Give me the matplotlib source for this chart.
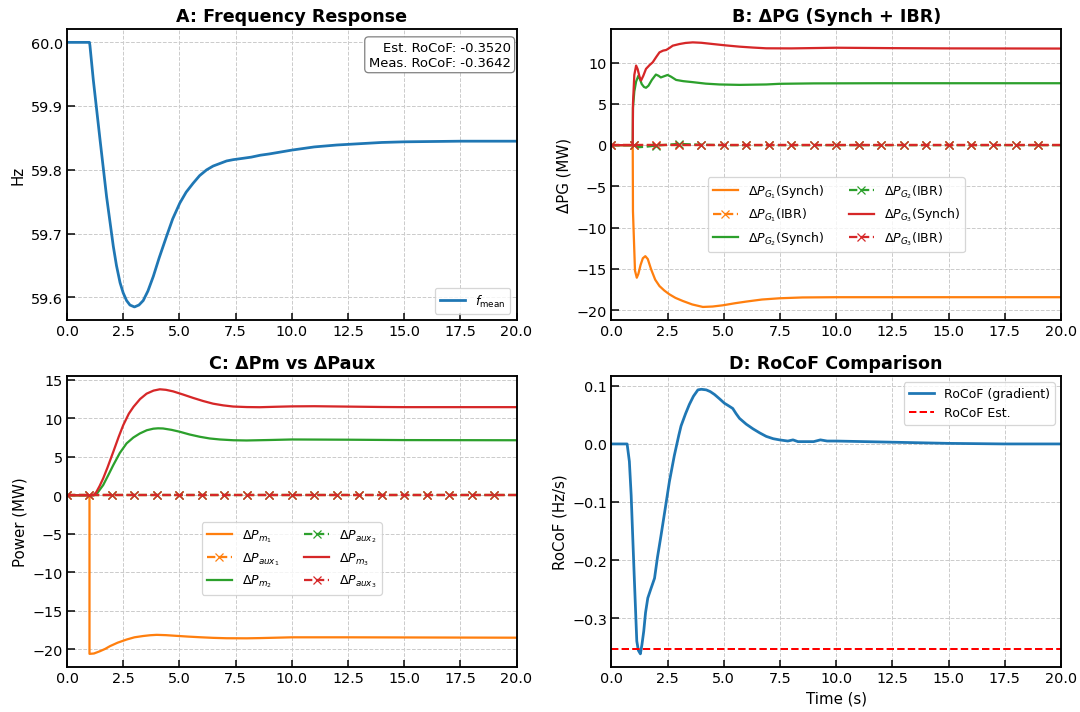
import matplotlib
matplotlib.use("Agg")
import matplotlib.pyplot as plt

# ---- data ----
# A: mean frequency (Hz)
t_f = [0.0, 1.0, 1.02, 1.17, 1.47, 1.76, 2.06, 2.2, 2.36, 2.5, 2.65, 2.8, 3.0, 3.2,
       3.39, 3.6, 3.84, 4.1, 4.43, 4.7, 5.02, 5.3, 5.61, 5.9, 6.21, 6.5, 6.8, 7.1,
       7.39, 7.8, 8.2, 8.6, 9.0, 10.0, 11.0, 12.0, 13.0, 14.0, 15.0, 17.5, 20.0]
f_mean = [60.0, 60.0, 59.995, 59.941, 59.847, 59.758, 59.680, 59.650, 59.623, 59.607,
          59.595, 59.588, 59.585, 59.588, 59.595, 59.610, 59.633, 59.662, 59.696,
          59.723, 59.748, 59.765, 59.779, 59.791, 59.800, 59.806, 59.810, 59.814,
          59.816, 59.818, 59.820, 59.823, 59.825, 59.831, 59.836, 59.839, 59.841,
          59.843, 59.844, 59.845, 59.845]
rocof_est = -0.3520
rocof_meas = -0.3642

# B: generator power changes (MW)
t_g1 = [0.0, 0.95, 0.96, 1.05, 1.13, 1.2, 1.3, 1.4, 1.51, 1.62, 1.77, 1.95, 2.14,
        2.35, 2.58, 2.85, 3.18, 3.6, 4.07, 4.5, 4.96, 5.5, 6.0, 6.7, 7.48, 8.5, 10.0,
        15.0, 20.0]
pg1_synch = [0.0, 0.0, -8.0, -15.2, -16.06, -15.6, -14.5, -13.7, -13.45, -13.8,
             -15.06, -16.3, -17.07, -17.6, -18.07, -18.5, -18.88, -19.3, -19.6,
             -19.55, -19.4, -19.15, -18.95, -18.7, -18.55, -18.45, -18.42, -18.42,
             -18.42]
t_g2 = [0.0, 0.95, 0.96, 1.02, 1.1, 1.2, 1.27, 1.35, 1.45, 1.54, 1.65, 1.8, 1.98,
        2.1, 2.2, 2.35, 2.5, 2.65, 2.88, 3.2, 3.62, 4.2, 4.81, 5.7, 6.89, 7.48, 9.0,
        12.0, 20.0]
pg2_synch = [0.0, 0.0, 4.5, 6.5, 7.7, 8.4, 8.0, 7.4, 7.05, 6.95, 7.2, 7.9, 8.55, 8.4,
             8.2, 8.35, 8.5, 8.3, 7.9, 7.75, 7.63, 7.45, 7.35, 7.3, 7.35, 7.43, 7.48,
             7.5, 7.5]
t_g3 = [0.0, 0.95, 0.96, 1.02, 1.1, 1.17, 1.25, 1.32, 1.42, 1.54, 1.7, 1.84, 2.0,
        2.14, 2.3, 2.44, 2.6, 2.73, 3.03, 3.3, 3.62, 4.0, 4.51, 5.1, 5.7, 6.3, 6.89,
        8.0, 10.0, 12.5, 15.0, 20.0]
pg3_synch = [0.0, 0.0, 5.0, 8.5, 9.64, 9.2, 8.3, 7.83, 8.4, 9.24, 9.7, 10.04, 10.7,
             11.24, 11.45, 11.53, 11.8, 12.05, 12.25, 12.38, 12.45, 12.4, 12.25,
             12.08, 11.93, 11.82, 11.73, 11.72, 11.8, 11.75, 11.72, 11.7]
t_ibr = [0.0, 1.0, 1.2, 1.5, 2.0, 2.5, 3.0, 3.5, 4.0, 5.0, 6.0, 7.0, 8.0, 9.0, 10.0,
         11.0, 12.0, 13.0, 14.0, 15.0, 16.0, 17.0, 18.0, 19.0, 20.0]
pg1_ibr = [0.0] * len(t_ibr)
pg2_ibr = [0.0, 0.0, -0.25, -0.2, -0.05, 0.05, 0.15, 0.1, 0.05, 0.0, 0.0, 0.0, 0.0,
           0.0, 0.0, 0.0, 0.0, 0.0, 0.0, 0.0, 0.0, 0.0, 0.0, 0.0, 0.0]
pg3_ibr = [0.0] * len(t_ibr)

# C: mechanical and auxiliary power (MW)
t_m1 = [0.0, 1.0, 1.0, 1.2, 1.47, 1.7, 1.91, 2.25, 2.65, 3.0, 3.39, 3.7, 3.99, 4.4,
        4.87, 5.4, 5.91, 6.5, 7.1, 8.0, 8.6, 10.0, 12.5, 20.0]
pm1 = [0.0, 0.0, -20.6, -20.55, -20.25, -19.95, -19.6, -19.15, -18.74, -18.45,
       -18.28, -18.18, -18.13, -18.17, -18.26, -18.36, -18.44, -18.52, -18.57,
       -18.58, -18.55, -18.45, -18.45, -18.5]
t_m2 = [0.0, 1.2, 1.35, 1.61, 1.85, 2.06, 2.35, 2.65, 2.95, 3.24, 3.55, 3.84, 4.05,
        4.27, 4.65, 5.02, 5.45, 5.91, 6.35, 6.8, 7.4, 7.99, 9.0, 10.0, 12.5, 15.0,
        20.0]
pm2 = [0.0, 0.0, 0.3, 1.33, 2.7, 3.93, 5.5, 6.74, 7.5, 8.03, 8.45, 8.65, 8.7, 8.68,
       8.5, 8.25, 7.9, 7.6, 7.38, 7.25, 7.15, 7.12, 7.18, 7.25, 7.22, 7.17, 7.15]
t_m3 = [0.0, 1.17, 1.3, 1.45, 1.61, 1.8, 2.06, 2.3, 2.5, 2.75, 2.96, 3.25, 3.54,
        3.85, 4.13, 4.4, 4.72, 5.15, 5.61, 6.05, 6.5, 6.95, 7.39, 8.0, 8.58, 9.3,
        10.0, 11.0, 12.5, 14.0, 15.0, 20.0]
pm3 = [0.0, 0.0, 0.4, 1.2, 2.2, 3.6, 5.66, 7.6, 9.1, 10.6, 11.5, 12.5, 13.2, 13.6,
       13.77, 13.7, 13.5, 13.1, 12.65, 12.25, 11.9, 11.68, 11.53, 11.46, 11.44,
       11.5, 11.55, 11.57, 11.52, 11.47, 11.45, 11.45]
t_aux = [0.0, 1.0, 2.0, 3.0, 4.0, 5.0, 6.0, 7.0, 8.0, 9.0, 10.0, 11.0, 12.0, 13.0,
         14.0, 15.0, 16.0, 17.0, 18.0, 19.0, 20.0]
paux1 = [0.0] * len(t_aux)
paux2 = [0.0] * len(t_aux)
paux3 = [0.0] * len(t_aux)

# D: RoCoF (Hz/s)
t_r = [0.0, 0.7, 0.8, 0.88, 0.95, 1.02, 1.08, 1.13, 1.2, 1.29, 1.36, 1.44, 1.52,
       1.62, 1.75, 1.92, 2.05, 2.21, 2.4, 2.58, 2.8, 3.0, 3.1, 3.3, 3.47, 3.65, 3.85,
       4.0, 4.22, 4.4, 4.59, 4.8, 5.03, 5.2, 5.4, 5.55, 5.7, 6.0, 6.3, 6.6, 6.89, 7.2,
       7.48, 7.85, 8.08, 8.3, 9.0, 9.3, 9.6, 10.0, 12.5, 15.0, 17.5, 20.0]
rocof = [0.0, 0.0, -0.03, -0.088, -0.16, -0.231, -0.29, -0.339, -0.355, -0.361,
         -0.345, -0.322, -0.29, -0.265, -0.25, -0.231, -0.195, -0.157, -0.11, -0.065,
         -0.02, 0.015, 0.031, 0.052, 0.068, 0.082, 0.093, 0.094, 0.093, 0.09, 0.085,
         0.078, 0.070, 0.066, 0.061, 0.052, 0.044, 0.034, 0.026, 0.019, 0.013, 0.009,
         0.007, 0.005, 0.007, 0.004, 0.004, 0.007, 0.005, 0.005, 0.003, 0.001, 0.0,
         0.0]

C_ORANGE = "#ff7f0e"
C_GREEN = "#2ca02c"
C_RED = "#d62728"
C_BLUE = "#1f77b4"

plt.rcParams.update({
    "font.size": 11,
    "axes.linewidth": 1.5,
    "xtick.direction": "in",
    "ytick.direction": "in",
    "xtick.major.size": 6,
    "ytick.major.size": 6,
    "xtick.major.width": 1.2,
    "ytick.major.width": 1.2,
    "xtick.labelsize": 11.5,
    "ytick.labelsize": 11.5,
    "axes.titlesize": 14,
    "axes.titleweight": "bold",
    "axes.labelsize": 12,
    "legend.fontsize": 10,
})


def marks(tt):
    return [i for i, v in enumerate(tt) if v == int(v) and v < 20]


fig, axes = plt.subplots(2, 2, figsize=(12.01, 7.92), dpi=90)
fig.subplots_adjust(left=0.062, right=0.9815, top=0.958, bottom=0.063,
                    wspace=0.211, hspace=0.192)
ax_a, ax_b, ax_c, ax_d = axes.flat

for ax in axes.flat:
    ax.grid(True, linestyle="--", color="#cccccc", linewidth=0.8)
    ax.set_xlim(0, 20)

# A
ax_a.plot(t_f, f_mean, color=C_BLUE, lw=2.2, label=r"$f_{\mathrm{mean}}$")
ax_a.set_title("A: Frequency Response")
ax_a.set_ylabel("Hz")
ax_a.legend(loc="lower right")
ax_a.text(0.987, 0.96, f"Est. RoCoF: {rocof_est:.4f}\nMeas. RoCoF: {rocof_meas:.4f}",
          transform=ax_a.transAxes, ha="right", va="top", fontsize=10.5,
          bbox=dict(boxstyle="round,pad=0.3", facecolor="white", edgecolor="gray"))

# B
lw = 1.8
ax_b.plot(t_g1, pg1_synch, color=C_ORANGE, lw=lw, label=r"$\Delta P_{G_1}$(Synch)")
ax_b.plot(t_ibr, pg1_ibr, color=C_ORANGE, lw=lw, ls="--", marker="x", ms=7,
          markevery=marks(t_ibr), label=r"$\Delta P_{G_1}$(IBR)")
ax_b.plot(t_g2, pg2_synch, color=C_GREEN, lw=lw, label=r"$\Delta P_{G_2}$(Synch)")
ax_b.plot(t_ibr, pg2_ibr, color=C_GREEN, lw=lw, ls="--", marker="x", ms=7,
          markevery=marks(t_ibr), label=r"$\Delta P_{G_2}$(IBR)")
ax_b.plot(t_g3, pg3_synch, color=C_RED, lw=lw, label=r"$\Delta P_{G_3}$(Synch)")
ax_b.plot(t_ibr, pg3_ibr, color=C_RED, lw=lw, ls="--", marker="x", ms=7,
          markevery=marks(t_ibr), label=r"$\Delta P_{G_3}$(IBR)")
ax_b.set_title("B: ΔPG (Synch + IBR)")
ax_b.set_ylabel("ΔPG (MW)")
ax_b.legend(ncol=2, loc="center", bbox_to_anchor=(0.5, 0.362))

# C
ax_c.plot(t_m1, pm1, color=C_ORANGE, lw=lw, label=r"$\Delta P_{m_1}$")
ax_c.plot(t_aux, paux1, color=C_ORANGE, lw=lw, ls="--", marker="x", ms=7,
          markevery=marks(t_aux), label=r"$\Delta P_{aux_1}$")
ax_c.plot(t_m2, pm2, color=C_GREEN, lw=lw, label=r"$\Delta P_{m_2}$")
ax_c.plot(t_aux, paux2, color=C_GREEN, lw=lw, ls="--", marker="x", ms=7,
          markevery=marks(t_aux), label=r"$\Delta P_{aux_2}$")
ax_c.plot(t_m3, pm3, color=C_RED, lw=lw, label=r"$\Delta P_{m_3}$")
ax_c.plot(t_aux, paux3, color=C_RED, lw=lw, ls="--", marker="x", ms=7,
          markevery=marks(t_aux), label=r"$\Delta P_{aux_3}$")
ax_c.set_title("C: ΔPm vs ΔPaux")
ax_c.set_ylabel("Power (MW)")
ax_c.legend(ncol=2, loc="center", bbox_to_anchor=(0.5, 0.373))

# D
ax_d.plot(t_r, rocof, color=C_BLUE, lw=2.2, label="RoCoF (gradient)")
ax_d.axhline(rocof_est, color="red", ls="--", lw=1.6, label="RoCoF Est.")
ax_d.set_title("D: RoCoF Comparison")
ax_d.set_xlabel("Time (s)")
ax_d.set_ylabel("RoCoF (Hz/s)")
ax_d.legend(loc="upper right")

fig.savefig("out.png", dpi=90)
